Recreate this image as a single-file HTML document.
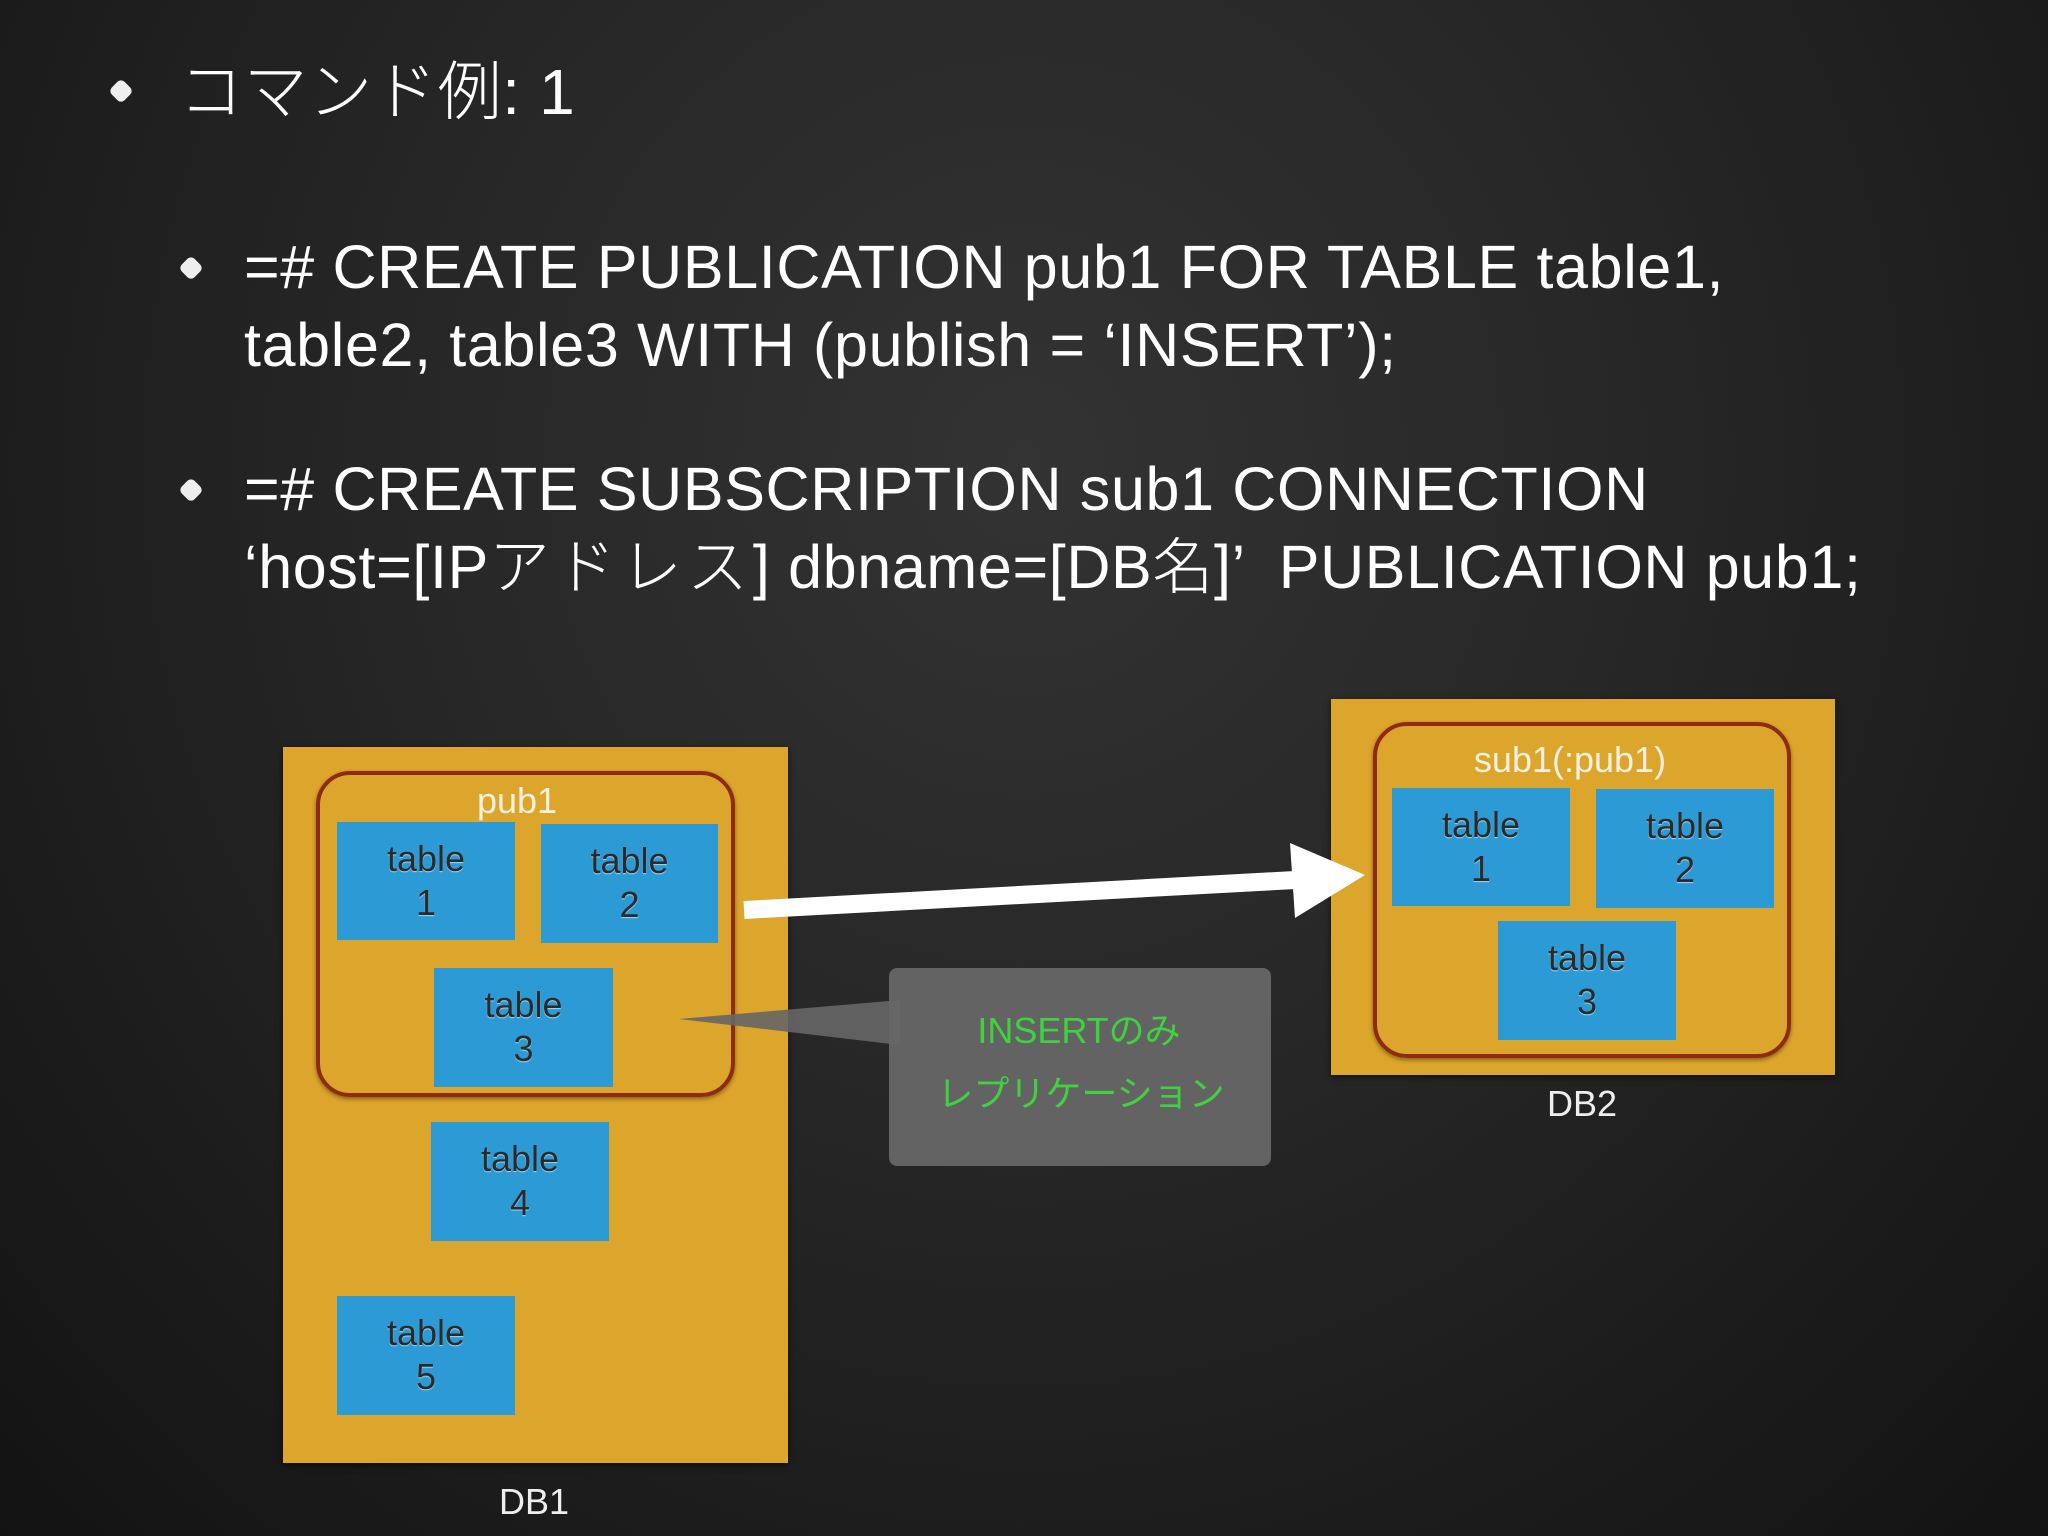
<!DOCTYPE html>
<html><head><meta charset="utf-8"><style>
body{margin:0;width:2048px;height:1536px;overflow:hidden;background:radial-gradient(ellipse at 50% 30%,#333 0%,#262626 45%,#131313 100%);font-family:"Liberation Sans","Noto Sans CJK JP",sans-serif;position:relative;color:#fff}
.a{position:absolute}
.bul{position:absolute;width:18px;height:18px;background:#eee;border-radius:5px;transform:rotate(45deg)}
.t{position:absolute;white-space:nowrap;font-weight:300;letter-spacing:0.65px;line-height:70px}
.db{position:absolute;background:#dca52b;box-shadow:0 2px 6px rgba(0,0,0,.6)}
.grp{position:absolute;border:4px solid #8e2b12;border-radius:34px;box-shadow:0 2px 4px rgba(0,0,0,.4)}
.tb{position:absolute;background:#2b9ad5;color:#2a2a2a;font-size:36px;text-align:center;line-height:44px;text-shadow:0 1px 1px rgba(255,255,255,.6);padding-top:15px;box-sizing:border-box}
.lbl{position:absolute;font-size:36px;transform:translate(-50%,-50%);white-space:nowrap}
</style></head><body>
<div class="bul" style="left:112px;top:82px"></div>
<div class="t" style="left:179px;top:55px;font-size:64px;line-height:74px">コマンド例: 1</div>
<div class="bul" style="left:182px;top:259px"></div>
<div class="t" style="left:244px;top:232px;font-size:61px">=# CREATE PUBLICATION pub1 FOR TABLE table1,</div>
<div class="t" style="left:244px;top:310px;font-size:61px">table2, table3 WITH (publish = ‘INSERT’);</div>
<div class="bul" style="left:182px;top:481px"></div>
<div class="t" style="left:244px;top:454px;font-size:61px">=# CREATE SUBSCRIPTION sub1 CONNECTION</div>
<div class="t" style="left:244px;top:532px;font-size:61px">‘host=[IP<span style="letter-spacing:5px">アドレス</span>] dbname=[DB名]’ &nbsp;PUBLICATION pub1;</div>

<div class="db" style="left:283px;top:747px;width:505px;height:716px"></div>
<div class="grp" style="left:316px;top:771px;width:411px;height:318px"></div>
<div class="lbl" style="left:517px;top:801px;color:#f4f0e0">pub1</div>
<div class="tb" style="left:337px;top:822px;width:178px;height:118px">table<br>1</div>
<div class="tb" style="left:541px;top:824px;width:177px;height:119px">table<br>2</div>
<div class="tb" style="left:434px;top:968px;width:179px;height:119px">table<br>3</div>
<div class="tb" style="left:431px;top:1122px;width:178px;height:119px">table<br>4</div>
<div class="tb" style="left:337px;top:1296px;width:178px;height:119px">table<br>5</div>
<div class="lbl" style="left:534px;top:1502px;color:#eee">DB1</div>

<div class="db" style="left:1331px;top:699px;width:504px;height:376px"></div>
<div class="grp" style="left:1373px;top:722px;width:410px;height:328px"></div>
<div class="lbl" style="left:1570px;top:760px;color:#f4f0e0">sub1(:pub1)</div>
<div class="tb" style="left:1392px;top:788px;width:178px;height:118px">table<br>1</div>
<div class="tb" style="left:1596px;top:789px;width:178px;height:119px">table<br>2</div>
<div class="tb" style="left:1498px;top:921px;width:178px;height:119px">table<br>3</div>
<div class="lbl" style="left:1582px;top:1104px;color:#eee">DB2</div>

<svg class="a" style="left:0;top:0" width="2048" height="1536">
<line x1="744" y1="910" x2="1295" y2="880" stroke="#fff" stroke-width="18"/>
<polygon points="1365,875 1290,843 1295,918" fill="#fff"/>
<polygon points="679,1019 900,1000 900,1045" fill="#666" opacity="0.9"/>
<rect x="889" y="968" width="382" height="198" rx="8" fill="#666" opacity="0.95"/>
</svg>
<div class="lbl" style="left:1079px;top:1028px;color:#3ed23e;font-size:36px">INSERTのみ</div>
<div class="lbl" style="left:1081px;top:1091px;color:#3ed23e;font-size:36px">レプリケーション</div>
</body></html>
